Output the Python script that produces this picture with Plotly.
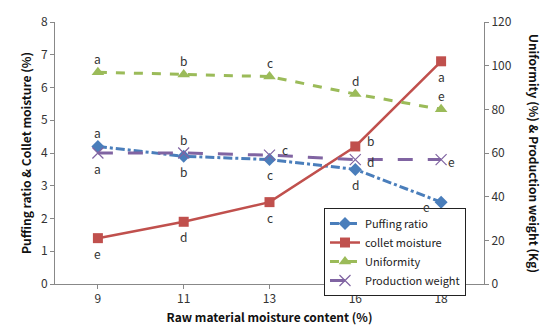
import plotly.graph_objects as go

# Raw material moisture levels (category axis)
moisture = ["9", "11", "13", "16", "18"]

# Left axis series
puffing_ratio = [4.2, 3.9, 3.8, 3.5, 2.5]
collet_moisture = [1.4, 1.9, 2.5, 4.2, 6.8]

# Right axis series
uniformity = [97, 96, 95, 87, 80]
production_weight = [60, 60, 59, 57, 57]

# Significance letters for each series
puffing_letters = ["a", "b", "c", "d", "e"]
collet_letters = ["e", "d", "c", "b", "a"]
uniformity_letters = ["a", "b", "c", "d", "e"]
weight_letters = ["a", "b", "c", "d", "e"]

# Where each letter sits relative to its point
puffing_pos = ["above", "below", "below", "below", "left"]
collet_pos = ["below", "below", "below", "aboveright", "below"]
uniformity_pos = ["above", "above", "above", "above", "above"]
weight_pos = ["below", "above", "aboveright", "right", "nearright"]

BLUE = "#4a7ebb"
RED = "#c0504d"
GREEN = "#9bbb59"
PURPLE = "#8064a2"
FONT = "Noto Sans CJK KR"

SHIFTS = {
    "above": (0, 14), "below": (0, -15), "right": (15, -2),
    "aboveright": (15, 6), "left": (-15, -4), "nearright": (10, -2),
}

fig = go.Figure()

fig.add_trace(go.Scatter(
    x=moisture, y=puffing_ratio, name="Puffing ratio", mode="lines+markers",
    line=dict(color=BLUE, width=3, dash="dashdot"),
    marker=dict(symbol="diamond", size=10, color=BLUE)))
fig.add_trace(go.Scatter(
    x=moisture, y=collet_moisture, name="collet moisture", mode="lines+markers",
    line=dict(color=RED, width=2.5),
    marker=dict(symbol="square", size=10, color=RED)))
fig.add_trace(go.Scatter(
    x=moisture, y=uniformity, name="Uniformity", mode="lines+markers", yaxis="y2",
    line=dict(color=GREEN, width=3, dash="dash"),
    marker=dict(symbol="triangle-up", size=11, color=GREEN)))
fig.add_trace(go.Scatter(
    x=moisture, y=production_weight, name="Production weight", mode="lines+markers", yaxis="y2",
    line=dict(color=PURPLE, width=3, dash="longdash"),
    marker=dict(symbol="x-thin-open", size=11, line=dict(color="#b79ccf", width=1.2))))

label_font = dict(family=FONT, size=12, color="#333333")

# Letter labels; on a category axis annotations use the category index
annotations = []
for ys, letters, poss, yref in [
    (puffing_ratio, puffing_letters, puffing_pos, "y"),
    (collet_moisture, collet_letters, collet_pos, "y"),
    (uniformity, uniformity_letters, uniformity_pos, "y2"),
    (production_weight, weight_letters, weight_pos, "y2"),
]:
    for i, (y, t, p) in enumerate(zip(ys, letters, poss)):
        dx, dy = SHIFTS[p]
        annotations.append(dict(
            x=i, y=y, xref="x", yref=yref, text=t, showarrow=False,
            xshift=dx, yshift=dy, font=label_font))

annotations.append(dict(
    text="<b>Uniformity (%) & Production weight (Kg)</b>", textangle=90,
    xref="paper", yref="paper", x=1.119, y=0.5, xanchor="center", yanchor="middle",
    showarrow=False, font=dict(family=FONT, size=12, color="#111111")))

axis_common = dict(
    showgrid=False, zeroline=False, showline=True, linecolor="#888888", linewidth=1,
    ticks="outside", ticklen=4, tickcolor="#888888",
    tickfont=dict(family=FONT, size=12, color="#333333"))

fig.update_layout(
    width=550, height=335,
    margin=dict(l=55, r=66, t=13, b=49),
    paper_bgcolor="white", plot_bgcolor="white",
    font=dict(family=FONT, color="#222222"),
    xaxis=dict(**axis_common, type="category", range=[-0.5, 4.5],
               title=dict(text="<b>Raw material moisture content (%)</b>",
                          font=dict(family=FONT, size=12, color="#111111"), standoff=8)),
    yaxis=dict(**axis_common, range=[0, 8], dtick=1,
               title=dict(text="<b>Puffing ratio & Collet moisture (%)</b>",
                          font=dict(family=FONT, size=12, color="#111111"), standoff=6)),
    yaxis2=dict(**axis_common, range=[0, 120], dtick=20, overlaying="y", side="right"),
    legend=dict(x=0.627, y=0.29, xanchor="left", yanchor="top",
                bordercolor="#222222", borderwidth=1, bgcolor="white",
                font=dict(family=FONT, size=11, color="#222222"),
                tracegroupgap=0, itemwidth=30),
    showlegend=True,
    annotations=annotations,
)

fig.write_html("out.html")
